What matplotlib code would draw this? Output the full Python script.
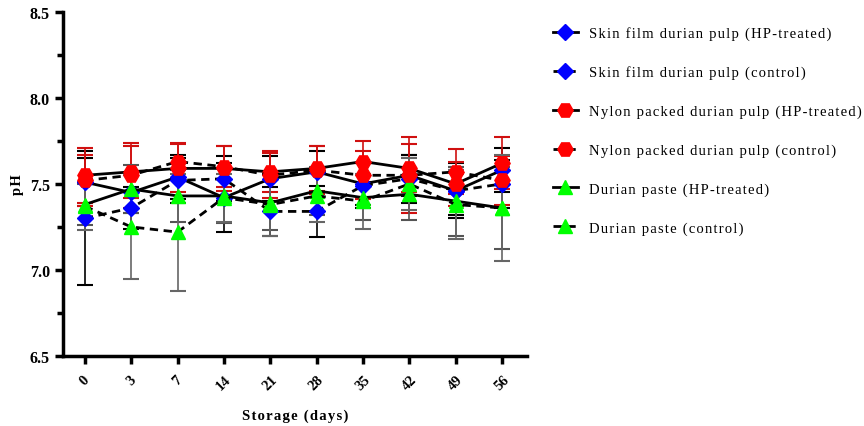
import matplotlib.pyplot as plt
from matplotlib.ticker import MultipleLocator

days = ["0", "3", "7", "14", "21", "28", "35", "42", "49", "56"]

skin_hp = [7.51, 7.45, 7.54, 7.42, 7.53, 7.57, 7.50, 7.55, 7.46, 7.58]
skin_hp_err = [0.14, 0.12, 0.13, 0.20, 0.13, 0.12, 0.12, 0.12, 0.14, 0.13]
skin_ctrl = [7.30, 7.36, 7.52, 7.53, 7.34, 7.34, 7.49, 7.53, 7.46, 7.50]
skin_ctrl_err = [0.39, 0.12, 0.13, 0.13, 0.14, 0.15, 0.13, 0.14, 0.16, 0.14]

nylon_hp = [7.55, 7.57, 7.59, 7.59, 7.57, 7.59, 7.63, 7.59, 7.50, 7.62]
nylon_hp_err = [0.16, 0.15, 0.14, 0.13, 0.12, 0.13, 0.12, 0.14, 0.13, 0.15]
nylon_ctrl = [7.52, 7.55, 7.63, 7.60, 7.55, 7.58, 7.55, 7.55, 7.57, 7.52]
nylon_ctrl_err = [0.15, 0.19, 0.11, 0.12, 0.13, 0.14, 0.14, 0.22, 0.13, 0.14]

paste_hp = [7.38, 7.47, 7.43, 7.43, 7.39, 7.46, 7.42, 7.44, 7.40, 7.36]
paste_hp_err = [0.12, 0.14, 0.15, 0.16, 0.16, 0.14, 0.13, 0.15, 0.20, 0.24]
paste_ctrl = [7.37, 7.25, 7.22, 7.42, 7.38, 7.43, 7.40, 7.50, 7.38, 7.36]
paste_ctrl_err = [0.14, 0.30, 0.34, 0.14, 0.18, 0.15, 0.16, 0.15, 0.20, 0.31]

labels = [
    "Skin film durian pulp (HP-treated)",
    "Skin film durian pulp (control)",
    "Nylon packed durian pulp (HP-treated)",
    "Nylon packed durian pulp (control)",
    "Durian paste (HP-treated)",
    "Durian paste (control)",
]


def spaced(s):
    return "\u200a".join(s)


serif = ["Liberation Serif", "DejaVu Serif"]
plt.rcParams["font.family"] = serif

fig = plt.figure(figsize=(8.64, 4.27), dpi=100)
ax = fig.add_axes([0.073, 0.164, 0.537, 0.806])

x = list(range(len(days)))
series = [
    (skin_hp, skin_hp_err, "D", "#0000ff", "-", 8, "black", 3),
    (skin_ctrl, skin_ctrl_err, "D", "#0000ff", "--", 8, "black", 3),
    (nylon_hp, nylon_hp_err, "H", "#ff0000", "-", 11, "#d01010", 5),
    (nylon_ctrl, nylon_ctrl_err, "H", "#ff0000", "--", 11, "#d01010", 5),
    (paste_hp, paste_hp_err, "^", "#00ff00", "-", 10, "#555555", 4),
    (paste_ctrl, paste_ctrl_err, "^", "#00ff00", "--", 10, "#666666", 4),
]

handles = []
for (vals, err, mk, col, ls, ms, ecol, z), lab in zip(series, labels):
    ax.errorbar(x, vals, yerr=err, fmt="none", ecolor=ecol, elinewidth=1.2,
                capsize=6, capthick=1.5, zorder=2)
    line, = ax.plot(x, vals, color="black", linestyle=ls, linewidth=2,
                    dashes=(3, 2) if ls == "--" else (None, None),
                    marker=mk, markersize=ms, markerfacecolor=col,
                    markeredgecolor=col, zorder=z, label=lab)
    handles.append(line)

ax.set_xlim(-0.47, 9.54)
ax.set_ylim(6.5, 8.5)
ax.set_xticks(x)
ax.set_xticklabels(days, rotation=45, fontweight="bold", fontsize=10.5)
ax.yaxis.set_major_locator(MultipleLocator(0.5))
ax.yaxis.set_minor_locator(MultipleLocator(0.25))
ax.set_yticklabels([f"{v:.1f}" for v in ax.get_yticks()], fontweight="bold", fontsize=11.5)
ax.tick_params(axis="both", which="major", length=6, width=2.5, direction="out")
ax.tick_params(axis="y", which="minor", length=4, width=2.5, direction="out")
ax.tick_params(axis="x", pad=6)

for side in ["top", "right"]:
    ax.spines[side].set_visible(False)
for side in ["left", "bottom"]:
    ax.spines[side].set_linewidth(2.5)

ax.set_ylabel(spaced("pH"), fontweight="bold", fontsize=10.5, labelpad=4)
ax.set_xlabel(spaced("Storage (days)"), fontweight="bold", fontsize=10.5, labelpad=12)

fig.legend(handles=handles, labels=[spaced(l) for l in labels],
           loc="upper left", bbox_to_anchor=(0.640, 0.937), frameon=False,
           fontsize=10.5, handlelength=1.7, handletextpad=0.75,
           labelspacing=1.74, borderpad=0, borderaxespad=0)

fig.savefig("out.png", dpi=100)
